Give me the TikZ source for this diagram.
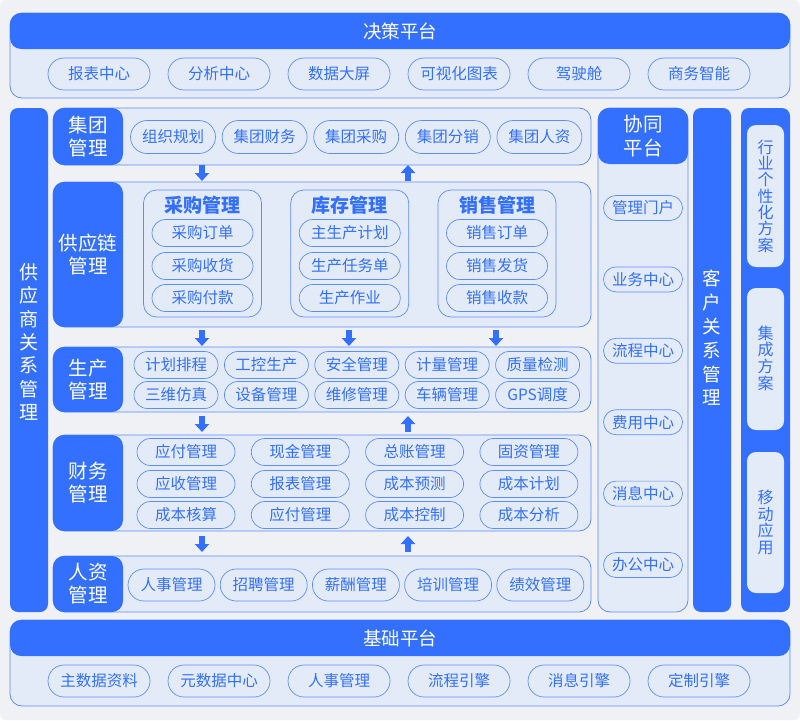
\documentclass[tikz,border=0pt]{standalone}
\usepackage{fontspec}
\setmainfont{Noto Sans CJK SC}
\usetikzlibrary{fit, shapes.misc, arrows.meta}
\definecolor{mainblue}{HTML}{3370FF}
\definecolor{paleblue}{HTML}{E4EBF8}
\definecolor{edgeblue}{HTML}{5C8DFF}
\definecolor{canvas}{HTML}{F0F1F4}

\begin{document}
\begin{tikzpicture}[x=1pt, y=-1pt,
    panel/.style={draw=edgeblue, line width=0.8pt, fill=paleblue, rounded corners=12pt, inner sep=0pt},
    band/.style={fill=mainblue, rounded corners=11pt, inner sep=0pt},
    pill/.style={rounded rectangle, draw=mainblue!80, line width=0.7pt, text=mainblue, inner sep=0pt,
      font=\fontsize{15.5}{16}\selectfont},
    flow/.style={mainblue, line width=6pt, -{Triangle[width=14pt, length=8pt]}},
  ]
    % canvas
    \useasboundingbox (0,0) rectangle (800,720);
    \fill[canvas, rounded corners=6pt] (0,0) rectangle (800,720);

    % top platform
    \node[panel, fit={(10,13) (790,98)}] (top) {};
    \node[band, fit={(10,13) (790,49)}] (tophead) {};
    \node[text=white, font=\fontsize{18.5}{20}\selectfont] (toptitle) at (tophead.center) {决策平台};
    \foreach \t [count=\i from 0] in {报表中心, 分析中心, 数据大屏, 可视化图表, 驾驶舱, 商务智能}
      \node[pill, minimum width=102pt, minimum height=32pt] (top\i) at ({99+120*\i},74) {\t};

    % supplier bar
    \node[band, rounded corners=8pt, fit={(10,108) (48,612)}] (srm) {};
    \node[text=white, align=center, font=\fontsize{19}{23.3}\selectfont] (srmtext) at (29,342)
      {供\\应\\商\\关\\系\\管\\理};

    % group
    \node[panel, fit={(53,108) (591,165)}] (grp) {};
    \node[band, fit={(53,108) (123,165)}] (grplabel) {};
    \node[text=white, align=center, font=\fontsize{19.5}{23}\selectfont] at (grplabel.center) {集团\\管理};
    \foreach \t [count=\i from 0] in {组织规划, 集团财务, 集团采购, 集团分销, 集团人资}
      \node[pill, minimum width=85pt, minimum height=33pt] (grp\i) at ({173+91.6*\i},137) {\t};

    % supply chain
    \node[panel, fit={(53,182) (591,327)}] (scm) {};
    \node[band, fit={(53,182) (123,327)}] (scmlabel) {};
    \node[text=white, align=center, font=\fontsize{19.5}{23}\selectfont] at (scmlabel.center) {供应链\\管理};
    \foreach \title/\a/\b/\c [count=\i from 0] in {采购管理/采购订单/采购收货/采购付款,
        库存管理/主生产计划/生产任务单/生产作业, 销售管理/销售订单/销售发货/销售收款} {
      \node[draw=mainblue!80, line width=0.7pt, rounded corners=13pt, minimum width=118pt,
        minimum height=127pt, inner sep=0pt] (sc\i) at ({202.5+147.25*\i},253.5) {};
      \node[text=mainblue, font=\fontsize{19}{20}\selectfont\bfseries] (sct\i) at ({202.5+147.25*\i},205) {\title};
      \node[pill, minimum width=101pt, minimum height=27pt] (sca\i) at ({202.5+147.25*\i},233) {\a};
      \node[pill, minimum width=101pt, minimum height=27pt] (scb\i) at ({202.5+147.25*\i},266) {\b};
      \node[pill, minimum width=101pt, minimum height=27pt] (scc\i) at ({202.5+147.25*\i},298) {\c};
    }

    % production
    \node[panel, fit={(53,347) (591,412)}] (prd) {};
    \node[band, fit={(53,347) (123,412)}] (prdlabel) {};
    \node[text=white, align=center, font=\fontsize{19.5}{23}\selectfont] at (prdlabel.center) {生产\\管理};
    \foreach \t [count=\i from 0] in {计划排程, 工控生产, 安全管理, 计量管理, 质量检测}
      \node[pill, minimum width=84pt, minimum height=27pt] (prda\i) at ({176+90.4*\i},365) {\t};
    \foreach \t [count=\i from 0] in {三维仿真, 设备管理, 维修管理, 车辆管理, GPS调度}
      \node[pill, minimum width=84pt, minimum height=27pt] (prdb\i) at ({176+90.4*\i},395) {\t};

    % finance
    \node[panel, fit={(53,435) (591,531)}] (fin) {};
    \node[band, fit={(53,435) (123,531)}] (finlabel) {};
    \node[text=white, align=center, font=\fontsize{19.5}{23}\selectfont] at (finlabel.center) {财务\\管理};
    \foreach \t [count=\i from 0] in {应付管理, 现金管理, 总账管理, 固资管理}
      \node[pill, minimum width=98pt, minimum height=27pt] (fina\i) at ({186+114.3*\i},452) {\t};
    \foreach \t [count=\i from 0] in {应收管理, 报表管理, 成本预测, 成本计划}
      \node[pill, minimum width=98pt, minimum height=27pt] (finb\i) at ({186+114.3*\i},484) {\t};
    \foreach \t [count=\i from 0] in {成本核算, 应付管理, 成本控制, 成本分析}
      \node[pill, minimum width=98pt, minimum height=27pt] (finc\i) at ({186+114.3*\i},515) {\t};

    % human resources
    \node[panel, fit={(53,556) (591,612)}] (hr) {};
    \node[band, fit={(53,556) (123,612)}] (hrlabel) {};
    \node[text=white, align=center, font=\fontsize{19.5}{23}\selectfont] at (hrlabel.center) {人资\\管理};
    \foreach \t [count=\i from 0] in {人事管理, 招聘管理, 薪酬管理, 培训管理, 绩效管理}
      \node[pill, minimum width=87pt, minimum height=32pt] (hr\i) at ({171.5+92.2*\i},585) {\t};

    % flows between layers
    \foreach \x/\ya/\yb [count=\i] in {202/165/181, 408/181/165, 202/330/346, 349/330/346, 496/330/346,
        202/416/432, 408/432/416, 202/536/552, 408/552/536} {
      \coordinate (f\i a) at (\x,\ya);
      \coordinate (f\i b) at (\x,\yb);
      \draw[flow] (f\i a) -- (f\i b);
    }

    % collaboration platform
    \node[panel, fit={(598,108) (688,612)}] (oa) {};
    \node[band, fit={(598,108) (688,164)}] (oahead) {};
    \node[text=white, align=center, font=\fontsize{19.5}{23.5}\selectfont] at (oahead.center) {协同\\平台};
    \foreach \t [count=\i from 0] in {管理门户, 业务中心, 流程中心, 费用中心, 消息中心, 办公中心}
      \node[pill, minimum width=79pt, minimum height=25pt] (oa\i) at ({643},{208+71.4*\i}) {\t};

    % customer bar
    \node[band, rounded corners=8pt, fit={(693,108) (731,612)}] (crm) {};
    \node[text=white, align=center, font=\fontsize{18.5}{23.8}\selectfont] (crmtext) at (712,338)
      {客\\户\\关\\系\\管\\理};

    % solutions column
    \node[band, rounded corners=8pt, fit={(741,108) (790,612)}] (sol) {};
    \node[fill=paleblue, rounded corners=9pt, inner sep=0pt, fit={(747,125) (784,267)}] (sol1) {};
    \node[fill=paleblue, rounded corners=9pt, inner sep=0pt, fit={(747,288) (784,430)}] (sol2) {};
    \node[fill=paleblue, rounded corners=9pt, inner sep=0pt, fit={(747,452) (784,593)}] (sol3) {};
    \node[text=mainblue, align=center, font=\fontsize{16}{16.3}\selectfont] at (sol1.center) {行\\业\\个\\性\\化\\方\\案};
    \node[text=mainblue, align=center, font=\fontsize{16}{16.7}\selectfont] at (765.5,358) {集\\成\\方\\案};
    \node[text=mainblue, align=center, font=\fontsize{16}{16.7}\selectfont] at (sol3.center) {移\\动\\应\\用};

    % base platform
    \node[panel, fit={(10,620) (790,706)}] (base) {};
    \node[band, fit={(10,620) (790,656)}] (basehead) {};
    \node[text=white, font=\fontsize{18.5}{20}\selectfont] (basetitle) at (basehead.center) {基础平台};
    \foreach \t [count=\i from 0] in {主数据资料, 元数据中心, 人事管理, 流程引擎, 消息引擎, 定制引擎}
      \node[pill, minimum width=102pt, minimum height=32pt] (base\i) at ({99+120*\i},681) {\t};
\end{tikzpicture}
\end{document}
